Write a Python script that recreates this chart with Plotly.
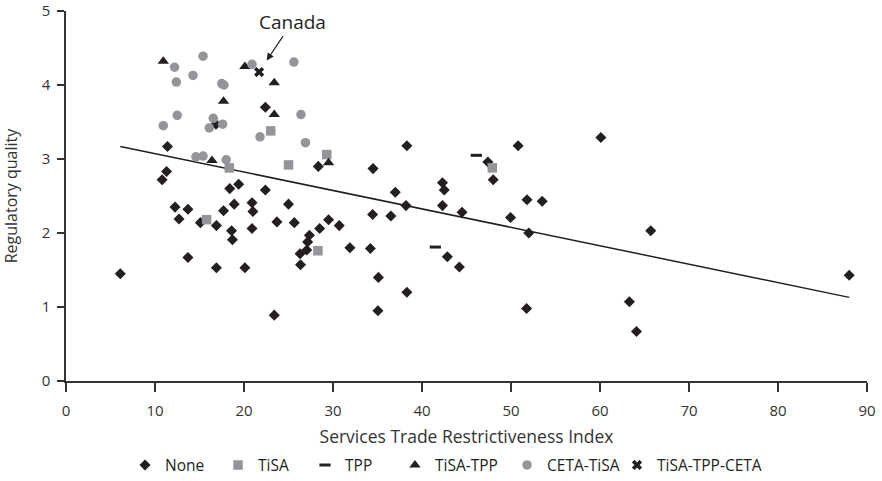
import plotly.graph_objects as go

# ---- data ----
none_x = [6.1, 11.4, 11.3, 10.8, 12.25, 13.7, 12.7, 15.1, 16.9, 17.7, 18.4, 19.4, 16.85, 13.7, 16.9,
          18.6, 18.7, 18.9, 20.1, 20.9, 21.0, 20.9, 22.4, 22.4, 25.0, 23.7, 25.65, 29.5, 28.5, 30.7,
          31.9, 34.2, 27.35, 27.15, 27.05, 26.3, 26.35, 23.4, 28.35, 34.5, 38.3, 42.3, 42.5, 37.0,
          38.2, 42.3, 44.5, 34.45, 36.5, 51.8, 53.5, 49.95, 52.0, 50.8, 47.4, 48.0, 42.85, 44.2,
          35.1, 38.3, 35.05, 51.75, 60.1, 63.3, 64.1, 65.7, 88.0]
none_y = [1.45, 3.17, 2.83, 2.72, 2.35, 2.32, 2.19, 2.14, 2.10, 2.30, 2.60, 2.66, 3.47, 1.67, 1.53,
          2.03, 1.91, 2.39, 1.53, 2.41, 2.29, 2.06, 2.58, 3.70, 2.39, 2.15, 2.14, 2.18, 2.06, 2.10,
          1.80, 1.79, 1.97, 1.88, 1.77, 1.72, 1.57, 0.89, 2.90, 2.87, 3.18, 2.68, 2.58, 2.55,
          2.37, 2.37, 2.28, 2.25, 2.23, 2.45, 2.43, 2.21, 2.00, 3.18, 2.96, 2.72, 1.68, 1.54,
          1.40, 1.20, 0.95, 0.98, 3.29, 1.07, 0.67, 2.03, 1.43]

tisa_x = [15.8, 18.35, 23.0, 25.0, 29.3, 28.3, 47.9]
tisa_y = [2.18, 2.88, 3.38, 2.92, 3.06, 1.76, 2.88]

tpp_x = [46.1, 41.5]
tpp_y = [3.05, 1.81]

tisa_tpp_x = [10.93, 17.7, 16.4, 20.1, 23.4, 23.4, 29.5]
tisa_tpp_y = [4.32, 3.78, 2.98, 4.25, 4.03, 3.60, 2.95]

ceta_tisa_x = [15.4, 12.2, 14.27, 12.4, 17.5, 17.75, 12.5, 10.93, 16.55, 17.6, 16.1, 14.6, 15.4,
               18.0, 20.9, 25.6, 26.4, 21.8, 26.9]
ceta_tisa_y = [4.39, 4.24, 4.13, 4.04, 4.02, 4.00, 3.59, 3.45, 3.55, 3.47, 3.42, 3.03, 3.04,
               2.99, 4.28, 4.31, 3.60, 3.30, 3.22]

all3_x = [21.7]
all3_y = [4.175]

trend_x = [6.1, 88.0]
trend_y = [3.17, 1.13]

canada_x, canada_y = 22.55, 4.33

x_ticks = [0, 10, 20, 30, 40, 50, 60, 70, 80, 90]
y_ticks = [0, 1, 2, 3, 4, 5]

FONT = "Open Sans"
BLACK = "#231f20"
GRAY = "#939598"
AX = "#333333"

fig = go.Figure()

fig.add_trace(go.Scatter(x=trend_x, y=trend_y, mode="lines",
                         line=dict(color=BLACK, width=1.5), showlegend=False, hoverinfo="skip"))

series = [
    ("None", none_x, none_y, dict(symbol="diamond", size=8.5, color=BLACK)),
    ("TiSA", tisa_x, tisa_y, dict(symbol="square", size=9.5, color=GRAY)),
    ("TPP", tpp_x, tpp_y, dict(symbol="line-ew", size=8, color=BLACK, line=dict(width=3, color=BLACK))),
    ("TiSA-TPP", tisa_tpp_x, tisa_tpp_y, dict(symbol="triangle-up", size=10, color=BLACK)),
    ("CETA-TiSA", ceta_tisa_x, ceta_tisa_y, dict(symbol="circle", size=9.5, color=GRAY)),
    ("TiSA-TPP-CETA", all3_x, all3_y, dict(symbol="x", size=9, color=BLACK)),
]
legend_left = [0.0737, 0.1898, 0.2984, 0.4107, 0.5506, 0.6879]

legend_layout = {}
for i, (name, xs, ys, mk) in enumerate(series):
    lname = "legend" if i == 0 else f"legend{i + 1}"
    fig.add_trace(go.Scatter(x=xs, y=ys, mode="markers", name=name, marker=mk,
                             legend=lname))
    legend_layout[lname] = dict(orientation="h", x=legend_left[i], xanchor="left",
                                y=-0.228, yanchor="middle", itemwidth=30,
                                font=dict(family=FONT, size=15.5, color=BLACK),
                                bgcolor="rgba(0,0,0,0)")

fig.add_annotation(x=canada_x, y=canada_y, xref="x", yref="y", text="Canada",
                   showarrow=True, ax=26, ay=-39, arrowhead=2, arrowsize=1.2, arrowwidth=1.2,
                   arrowcolor=BLACK, font=dict(family=FONT, size=19, color=BLACK))

axis_common = dict(showline=True, linecolor=AX, linewidth=1.5, ticks="outside",
                   tickcolor=AX, tickwidth=1.5, showgrid=False, zeroline=False,
                   automargin=False,
                   tickfont=dict(family=FONT, size=15, color=AX))

fig.update_xaxes(range=[0, 90], tickvals=x_ticks, ticklen=9, ticklabelstandoff=6,
                 title=dict(text="Services Trade Restrictiveness Index", standoff=12,
                            font=dict(family=FONT, size=17.5, color=AX)),
                 **axis_common)
fig.update_yaxes(range=[0, 5], tickvals=y_ticks, ticklen=7, ticklabelstandoff=4,
                 title=dict(text="Regulatory quality", standoff=22,
                            font=dict(family=FONT, size=16, color=AX)),
                 **axis_common)

fig.update_layout(
    width=882, height=481,
    margin=dict(l=66, r=15, t=11, b=99.5, autoexpand=False),
    plot_bgcolor="white", paper_bgcolor="white",
    font=dict(family=FONT, color=AX),
    **legend_layout,
)

# remove the default page margin so the figure fills the window exactly
fig.write_html("out.html", config={"displayModeBar": False},
               post_script="document.body.style.margin='0';document.body.style.overflow='hidden';")
